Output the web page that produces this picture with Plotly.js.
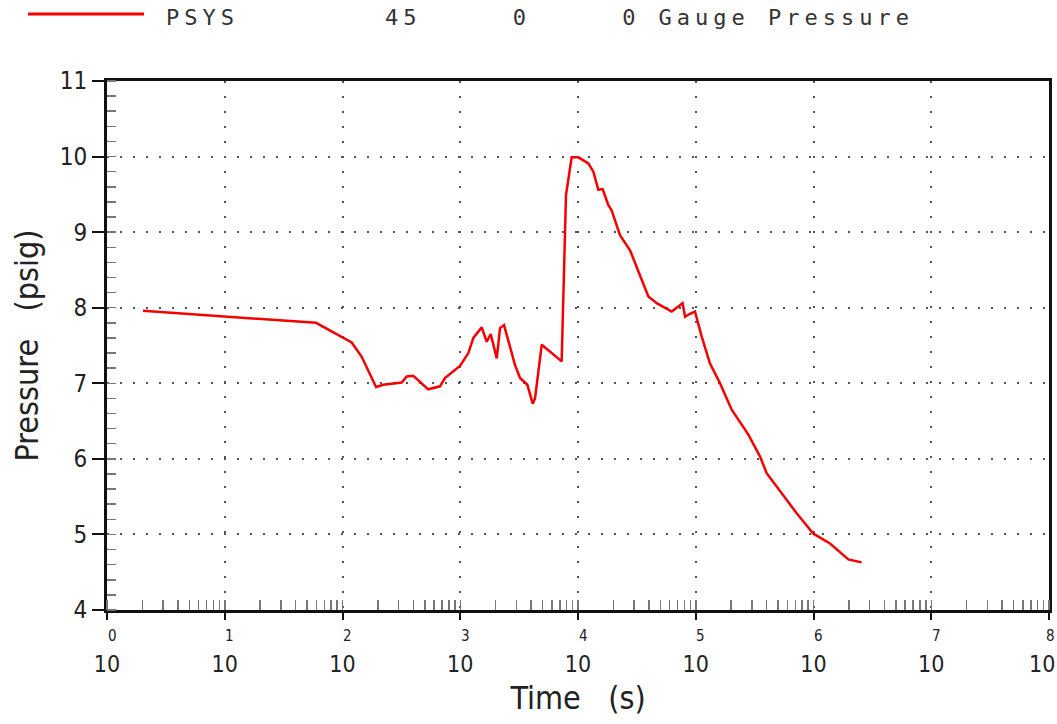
<!DOCTYPE html>
<html>
<head>
<meta charset="utf-8">
<script src="https://cdn.plot.ly/plotly-3.0.1.min.js"></script>
<style>
  html, body { margin: 0; padding: 0; background: #fff; }
  #chart { width: 1057px; height: 724px; }
</style>
</head>
<body>
<div id="chart"></div>
<script>
// ---- data ----
const timeS = [2.02, 59.6, 119.7, 145.6, 192.6, 222, 318, 351, 399, 535, 673, 741, 995,
  1172, 1292, 1522, 1678, 1815, 2042, 2177, 2355, 2919, 3218, 3716, 4124, 4315, 4920, 7266,
  7907, 8834, 10070, 12250, 13500, 14880, 16200, 18070, 19300, 22740, 27660, 39580, 46600,
  62500, 77300, 81100, 89400, 98500, 112200, 132100, 160700, 201900, 279800, 351700, 400200,
  519800, 719900, 997600, 1380000, 1977000, 2565000];
const pressurePsig = [7.96, 7.80, 7.54, 7.35, 6.95, 6.98, 7.01, 7.09, 7.10, 6.92, 6.96, 7.07, 7.23,
  7.40, 7.60, 7.74, 7.55, 7.65, 7.33, 7.73, 7.77, 7.24, 7.07, 6.98, 6.73, 6.80, 7.51, 7.29,
  9.49, 9.99, 9.99, 9.91, 9.80, 9.56, 9.57, 9.36, 9.29, 8.96, 8.76, 8.15, 8.06,
  7.95, 8.06, 7.88, 7.92, 7.95, 7.62, 7.26, 7.00, 6.65, 6.32, 6.03, 5.81,
  5.57, 5.28, 5.01, 4.88, 4.67, 4.63];

const xTickVals = [1, 10, 100, 1000, 10000, 100000, 1000000, 10000000, 100000000];
const xTickBase = ["10", "10", "10", "10", "10", "10", "10", "10", "10"];
const xTickExponents = ["0", "1", "2", "3", "4", "5", "6", "7", "8"];
const yTickVals = [4, 5, 6, 7, 8, 9, 10, 11];

const seriesName = "PSYS";
const legendFields = ["45", "0", "0"];
const seriesDescription = "Gauge Pressure";
const xTitle = "Time   (s)";
const yTitle = "Pressure   (psig)";

// ---- styling ----
const NARROW = '"Liberation Sans Narrow", "DejaVu Sans Condensed", "Arial Narrow", sans-serif';
const NB = '\u00a0';
const nb = s => s.replace(/ /g, NB);

const legendText = seriesName + NB.repeat(8) + legendFields[0] + NB.repeat(5) +
  legendFields[1] + NB.repeat(5) + legendFields[2] + NB + nb(seriesDescription);

const plotL = 107, plotR = 1049, plotT = 81, plotB = 610;
const W = 1057, H = 724;
const pw = plotR - plotL, ph = plotB - plotT;
const px = x => (x - plotL) / pw;
const py = y => (plotB - y) / ph;

const trace = {
  x: timeS, y: pressurePsig, type: 'scatter', mode: 'lines', name: seriesName,
  line: { color: 'rgb(245,0,0)', width: 2.5 }, showlegend: false
};

const lastIdx = xTickVals.length - 1;
// tick labels drawn by the axis, except the last one that sits on the page edge
const axisTickText = xTickBase.map((t, i) => (i === lastIdx ? '' : t));

const annotations = xTickVals.map((v, i) => ({
  x: Math.log10(v), xref: 'x', y: py(636), yref: 'paper',
  text: xTickExponents[i], showarrow: false, xanchor: 'center', yanchor: 'middle',
  xshift: i === lastIdx ? 1 : 5, borderpad: 0,
  font: { family: NARROW, size: 15, color: '#222' }
}));
annotations.push({
  x: Math.log10(xTickVals[lastIdx]), xref: 'x', y: py(664), yref: 'paper',
  text: xTickBase[lastIdx], showarrow: false, xanchor: 'right', yanchor: 'middle',
  xshift: 7, borderpad: 0, font: { family: NARROW, size: 23, color: '#222' }
});
annotations.push({
  x: px(164), xref: 'paper', y: py(18), yref: 'paper',
  text: '<span style="letter-spacing:5px">' + legendText + '</span>',
  showarrow: false, xanchor: 'left', yanchor: 'middle',
  font: { family: '"DejaVu Sans Mono", "Liberation Mono", monospace', size: 22, color: '#333' }
});

const layout = {
  width: W, height: H,
  margin: { l: plotL, r: W - plotR, t: plotT, b: H - plotB, pad: 0 },
  paper_bgcolor: '#fff', plot_bgcolor: '#fff',
  showlegend: false,
  xaxis: {
    type: 'log', range: [0, 8], autorange: false,
    tickmode: 'array', tickvals: xTickVals, ticktext: axisTickText,
    ticks: 'outside', ticklen: 7, tickwidth: 2, tickcolor: '#111',
    ticklabelstandoff: 24,
    tickfont: { family: NARROW, size: 23, color: '#222' },
    showline: true, linewidth: 3, linecolor: '#111', mirror: true,
    showgrid: true, gridcolor: '#555', gridwidth: 2, griddash: '2px,13px',
    zeroline: false,
    minor: { ticks: 'inside', ticklen: 10, tickwidth: 1.5, tickcolor: '#777', dtick: 'D1', showgrid: false },
    title: { text: nb(xTitle), font: { family: NARROW, size: 32, color: '#222' }, standoff: 12 },
    automargin: false
  },
  yaxis: {
    range: [4, 11], autorange: false,
    tickmode: 'array', tickvals: yTickVals,
    ticks: 'outside', ticklen: 12, tickwidth: 2, tickcolor: '#111',
    tickfont: { family: NARROW, size: 24, color: '#222' },
    showline: true, linewidth: 3, linecolor: '#111', mirror: true,
    showgrid: true, gridcolor: '#555', gridwidth: 2, griddash: '2px,11px',
    zeroline: false,
    minor: { ticks: 'inside', ticklen: 9, tickwidth: 1.5, tickcolor: '#777', dtick: 0.2, showgrid: false },
    title: { text: nb(yTitle), font: { family: NARROW, size: 32, color: '#222' }, standoff: 12 },
    automargin: false
  },
  shapes: [{
    type: 'line', xref: 'paper', yref: 'paper',
    x0: px(28), x1: px(144), y0: py(14), y1: py(14),
    line: { color: 'rgb(245,0,0)', width: 3 }
  }],
  annotations: annotations
};

Plotly.newPlot('chart', [trace], layout, { displayModeBar: false, staticPlot: true });
</script>
</body>
</html>
